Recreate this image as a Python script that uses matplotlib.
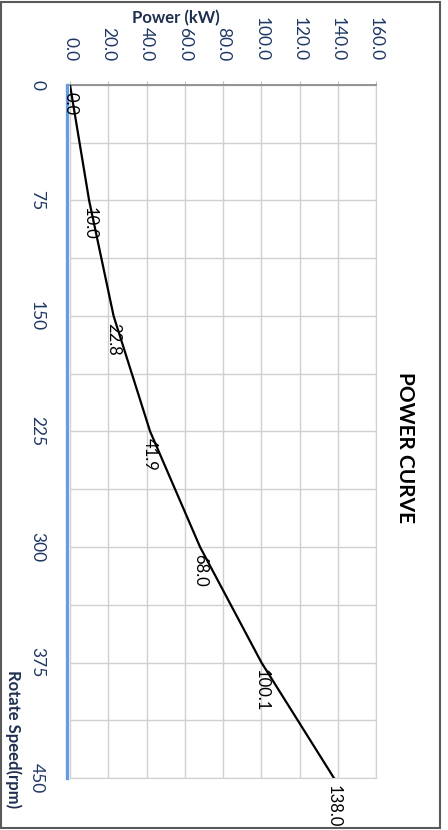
import numpy as np
import matplotlib
matplotlib.use("Agg")
import matplotlib.pyplot as plt
from matplotlib.patches import Rectangle

plt.rcParams['font.family'] = ['Lato', 'DejaVu Sans']

# power curve data
rpm = [0, 75, 150, 225, 300, 375, 450]
power = [0.0, 10.0, 22.8, 41.9, 68.0, 100.1, 138.0]
power_ticks = [0, 20, 40, 60, 80, 100, 120, 140, 160]
rpm_ticks = [0, 75, 150, 225, 300, 375, 450]

W, H = 448, 830
fig = plt.figure(figsize=(W / 100, H / 100), dpi=100)

# chart is drawn turned a quarter clockwise: power runs across, rpm runs down
ax = fig.add_axes([70 / W, 1 - 778 / H, (376 - 70) / W, (778 - 85) / H])
ax.set_xlim(0, 160)
ax.set_ylim(450, 0)

ax.plot(power, rpm, color='black', lw=1.6, zorder=3)
for p, r in zip(power, rpm):
    ax.annotate('{:.1f}'.format(p), (p, r), xytext=(0, -5), textcoords='offset points',
                rotation=270, ha='center', va='top', fontsize=12, color='black', zorder=4)

tick_col = '#1f3864'
ax.xaxis.tick_top()
ax.set_xticks(power_ticks)
ax.set_xticklabels(['{:.1f}'.format(v) for v in power_ticks])
ax.tick_params(axis='x', length=3, color='#bfbfbf', pad=14, labelrotation=270,
               labelsize=12.5, labelcolor=tick_col)
ax.set_yticks(rpm_ticks)
ax.set_yticks([37.5 + 75 * i for i in range(6)], minor=True)
ax.tick_params(axis='y', which='both', length=0, labelleft=False)
# rpm labels, turned like the rest of the chart
for r in rpm_ticks:
    ax.annotate(str(r), (0, r), xycoords=ax.get_yaxis_transform(), xytext=(-18, 0),
                textcoords='offset points', rotation=270, ha='right', va='center',
                fontsize=12.5, color=tick_col, annotation_clip=False)

ax.grid(True, which='both', color='#d0d0d0', lw=1)
ax.set_axisbelow(True)

ax.spines['top'].set_color('#8c8c8c')
ax.spines['top'].set_linewidth(1.3)
ax.spines['right'].set_color('#d0d0d0')
ax.spines['bottom'].set_color('#d0d0d0')
ax.spines['left'].set_color('#6a9be0')
ax.spines['left'].set_linewidth(2.4)
ax.spines['left'].set_position(('outward', 2))

fig.text(176 / W, 1 - 18 / H, 'Power (kW)', ha='center', va='center',
         fontsize=12, fontweight='bold', color='#1f2f4f')
fig.text(13 / W, 1 - 739 / H, 'Rotate Speed(rpm)', ha='center', va='center',
         rotation=270, fontsize=12, fontweight='bold', color='#1f2f4f')
fig.text(405 / W, 1 - 447 / H, 'POWER CURVE', ha='center', va='center',
         rotation=270, fontsize=15, fontweight='bold', color='black')

fig.patches.append(Rectangle((1 / W, 1 - 828 / H), 439 / W, 826 / H, transform=fig.transFigure,
                             fill=False, edgecolor='#5a5a5a', lw=1.5))

fig.savefig('out.png', dpi=100)
